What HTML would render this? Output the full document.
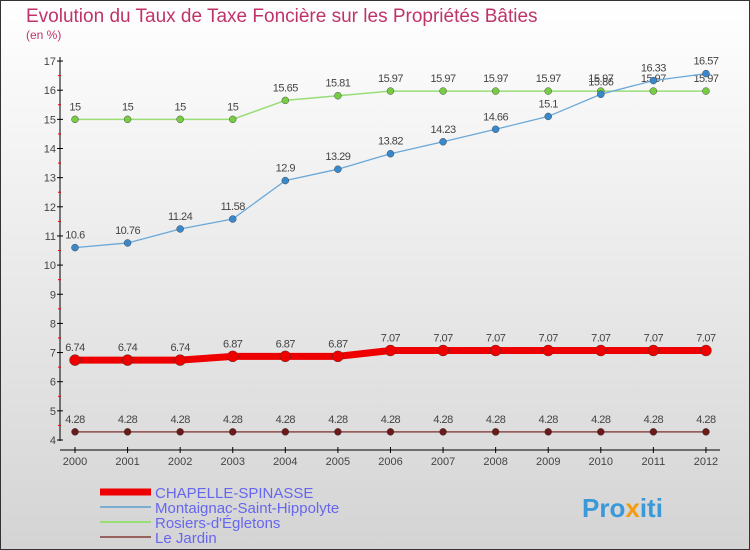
<!DOCTYPE html>
<html><head><meta charset="utf-8"><style>
body{margin:0}
svg{display:block;font-family:"Liberation Sans",sans-serif}
</style></head><body>
<svg width="750" height="550">
<defs><linearGradient id="bg" x1="0" y1="0" x2="0" y2="1"><stop offset="0" stop-color="#ffffff"/><stop offset="1" stop-color="#d4d4d4"/></linearGradient></defs>
<rect x="0.5" y="0.5" width="749" height="549" fill="url(#bg)" stroke="#333"/>
<text x="26" y="22" font-size="19" fill="#c0336a">Evolution du Taux de Taxe Foncière sur les Propriétés Bâties</text>
<text x="26" y="39" font-size="12" fill="#c0336a">(en %)</text>
<g id="axes"></g><g id="series"></g><g id="legend"></g>
<text x="582" y="517" font-size="26" font-weight="bold" fill="#3a9ad9">Pro<tspan fill="#f39c12">x</tspan>iti</text>
</svg>
<script>
const years=[2000,2001,2002,2003,2004,2005,2006,2007,2008,2009,2010,2011,2012];
const chapelle=[6.74,6.74,6.74,6.87,6.87,6.87,7.07,7.07,7.07,7.07,7.07,7.07,7.07];
const montaignac=[10.6,10.76,11.24,11.58,12.9,13.29,13.82,14.23,14.66,15.1,15.86,16.33,16.57];
const rosiers=[15,15,15,15,15.65,15.81,15.97,15.97,15.97,15.97,15.97,15.97,15.97];
const jardin=[4.28,4.28,4.28,4.28,4.28,4.28,4.28,4.28,4.28,4.28,4.28,4.28,4.28];
const yTicks=[4,5,6,7,8,9,10,11,12,13,14,15,16,17];
const seriesNames=["CHAPELLE-SPINASSE","Montaignac-Saint-Hippolyte","Rosiers-d'Égletons","Le Jardin"];
const NS="http://www.w3.org/2000/svg";
const X=i=>75+i*52.58, Y=v=>440-(v-4)*29.15;
function mk(t,a,p){const e=document.createElementNS(NS,t);for(const k in a)e.setAttribute(k,a[k]);p.appendChild(e);return e;}
const ax=document.getElementById('axes');
const yl=mk('line',{x1:60,y1:57,x2:60,y2:441,stroke:'#000'},ax);


yTicks.forEach(v=>{
  mk('line',{x1:57,x2:63,y1:Y(v),y2:Y(v),stroke:'#000'},ax);
  if(v<17)mk('line',{x1:58,x2:61,y1:Y(v+0.5),y2:Y(v+0.5),stroke:'#e00'},ax);
  const t=mk('text',{x:56,y:Y(v)+4,'font-size':11,fill:'#444','text-anchor':'end'},ax);t.textContent=v;
  
  
});
const xl=mk('line',{x1:60,y1:450,x2:720,y2:450,stroke:'#000'},ax);


years.forEach((y,i)=>{
  mk('line',{x1:X(i),x2:X(i),y1:447,y2:453,stroke:'#000'},ax);
  const t=mk('text',{x:X(i),y:465,'font-size':11,fill:'#444','text-anchor':'middle'},ax);t.textContent=y;
  
  
});
const sg=document.getElementById('series');
function draw(vals,color,w,r,dot,name){
  const g=mk('g',{},sg);
  
  
  mk('polyline',{points:vals.map((v,i)=>X(i)+','+Y(v)).join(' '),fill:'none',stroke:color,'stroke-width':w},g);
  vals.forEach((v,i)=>{
    const c=mk('circle',{cx:X(i),cy:Y(v),r:r,fill:dot,stroke:'#333','stroke-width':0.4},g);
    
    
    const t=mk('text',{x:X(i),y:Y(v)-9,'font-size':11,fill:'#444','text-anchor':'middle','letter-spacing':'-0.5'},g);t.textContent=v;
    
    
  });
}
draw(rosiers,'#99dd77',1.5,3.5,'#77cc44','series-rosiers');
draw(montaignac,'#6aa8d8',1.3,3.5,'#3a88cc','series-montaignac');
draw(jardin,'#8b4a4a',1.5,3.5,'#6b1a1a','series-le-jardin');
draw(chapelle,'#ee0000',7,5.5,'#ee0000','series-chapelle');
const lg=document.getElementById('legend');
const cols=['#ee0000','#7aaed0','#99dd77','#9a6060'],ws=[7,2,2,2];
seriesNames.forEach((n,i)=>{
  const y=492+i*15;
  const l=mk('line',{x1:100,x2:151,y1:y,y2:y,stroke:cols[i],'stroke-width':ws[i]},lg);
  
  
  const t=mk('text',{x:155,y:y+6,'font-size':15,fill:'#6666ee'},lg);t.textContent=n;
  
  
});
</script>
</body></html>
